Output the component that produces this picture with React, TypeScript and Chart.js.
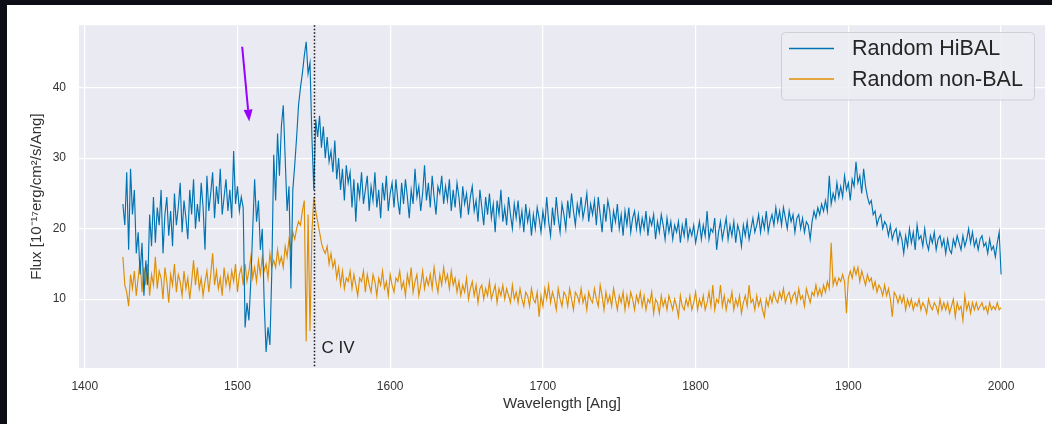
import React, { useEffect, useRef } from 'react';
import { Chart, registerables } from 'chart.js';

Chart.register(...registerables);

const WAVELENGTH_START = 1425;
const WAVELENGTH_STEP = 1.25;

const HIBAL_FLUX = [
  23.5, 20.5, 28.0, 17.0, 28.5, 22.0, 25.5, 16.5,
  19.5, 13.5, 18.0, 10.5, 15.5, 12.0, 22.0, 17.5,
  24.5, 18.0, 23.0, 20.5, 25.5, 16.5, 22.0, 24.5,
  19.0, 22.5, 17.5, 25.0, 20.5, 23.0, 26.5, 19.5,
  24.0, 21.5, 18.5, 25.5, 22.0, 27.0, 20.0, 23.5,
  21.0, 26.5, 23.0, 17.0, 27.5, 22.5, 25.0, 28.0,
  21.5, 26.0, 23.5, 28.5, 22.0, 24.5, 27.0, 22.5,
  25.5, 21.5, 31.0, 23.5, 26.0, 22.5, 24.5, 23.0,
  6.0, 9.5, 7.0, 12.5, 20.0, 27.0, 21.0, 24.0,
  17.0, 20.0, 9.5, 2.5, 6.0, 3.5, 14.0, 30.5,
  24.0, 33.5, 27.5, 34.5, 37.5, 30.0, 22.5, 26.0,
  11.5, 25.5, 29.0, 33.0, 37.5, 40.0, 42.0, 44.5,
  46.5, 42.0, 43.5, 33.0, 25.5, 35.5, 33.0, 36.0,
  31.5, 34.5, 30.0, 33.0, 29.5, 31.0, 28.0, 32.5,
  27.0, 30.0, 25.5, 28.5, 24.0, 29.0, 26.5, 28.0,
  23.0, 27.0, 21.0, 26.5, 24.5, 28.0, 23.5, 25.5,
  27.5, 22.5, 26.0, 24.0, 28.0, 23.0, 25.5, 21.5,
  26.5, 24.0, 27.5, 22.5, 25.0, 26.5, 23.0, 27.0,
  24.0, 22.0, 26.5, 23.5, 27.0, 24.5, 21.5, 25.5,
  23.5, 28.5, 24.5, 26.0, 22.5, 25.0, 29.0, 24.0,
  26.5, 23.0, 27.5, 24.5, 22.0, 26.0, 25.0, 27.5,
  23.5, 26.0, 24.0, 27.0, 22.5, 25.5, 23.0, 26.5,
  24.5, 21.5, 26.0, 23.5, 25.0, 22.0, 24.5, 26.0,
  22.5, 24.0, 21.0, 25.5, 23.0, 20.5, 24.5, 22.0,
  25.0, 21.5, 23.5, 19.5, 24.0, 22.0, 25.5, 21.0,
  23.0, 20.5, 24.5, 22.0, 20.0, 23.5, 21.5, 24.0,
  20.5, 22.5, 19.5, 23.5, 21.0, 22.5, 19.0, 22.0,
  20.0, 23.0, 21.5, 19.5, 22.5, 20.5, 24.5, 21.0,
  19.0, 23.0, 20.5, 24.5, 21.5, 19.5, 23.5, 22.0,
  20.0, 24.0, 21.5, 25.0, 22.5, 20.5, 23.5, 22.0,
  24.5, 21.5, 23.0, 25.0, 21.0, 23.5, 22.0, 24.0,
  20.5, 24.5, 22.0, 19.5, 23.5, 21.0, 24.0, 22.5,
  19.5, 22.5, 21.0, 23.5, 20.0, 22.0, 19.0, 22.5,
  20.5, 23.0, 19.5, 21.5, 22.5, 20.0, 22.0, 19.5,
  21.5, 20.0, 22.5, 19.0, 21.5, 20.5, 22.0, 18.5,
  21.0, 19.5, 22.0, 20.5, 18.5, 21.5, 19.5, 21.0,
  18.5, 20.5, 19.5, 21.0, 18.0, 20.5, 19.0, 21.5,
  18.5, 20.0, 19.0, 20.5, 18.0, 19.5, 21.0, 18.5,
  20.5, 19.0, 22.5, 18.5, 20.0, 19.5, 21.5, 17.0,
  19.5, 21.0, 18.5, 20.0, 21.5, 18.5, 20.5, 19.0,
  21.0, 18.0, 20.5, 19.5, 17.5, 20.5, 19.0, 21.0,
  18.5, 20.0, 21.5, 19.5, 20.5, 22.0, 19.5, 21.5,
  20.0, 22.5, 19.5, 21.0, 22.0, 20.5, 23.0, 21.0,
  22.5, 20.5, 23.0, 21.5, 20.0, 22.5, 21.0, 22.0,
  19.5, 21.5, 22.0, 20.0, 21.5, 19.5, 21.0, 20.5,
  18.5, 21.0, 22.5, 21.5, 23.0, 22.0, 23.5, 22.5,
  24.0, 22.5, 27.5, 23.5, 25.0, 24.0, 26.5, 24.5,
  26.0, 24.5, 27.5, 25.5, 26.5, 24.0, 27.0, 26.0,
  29.5, 26.5, 27.5, 25.0, 28.5, 26.0, 24.5, 23.5,
  24.0, 22.0, 22.5, 20.5, 21.5, 22.0, 20.0, 21.0,
  20.5, 19.0, 20.5, 18.5, 19.5, 20.0, 18.0, 19.5,
  18.5, 16.5, 19.0, 17.5, 20.0, 18.0, 19.5, 17.0,
  20.5, 18.5, 19.0, 17.5, 20.0, 18.0, 17.0, 19.0,
  18.0, 19.5, 17.0, 18.5, 19.0, 17.5, 18.5, 16.5,
  18.5, 17.0, 16.5, 18.5, 17.5, 19.0, 18.0, 17.0,
  19.0, 17.5, 18.5, 20.0, 18.0, 19.5, 17.5, 18.5,
  17.0, 18.5, 19.0, 17.5, 18.0, 16.5, 18.5, 17.0,
  17.5, 16.0, 18.0, 19.5, 13.5,
];

const NONBAL_FLUX = [
  16.0, 12.0, 11.0, 9.0, 13.5, 11.5, 14.0, 10.5,
  13.0, 15.5, 11.0, 14.5, 12.0, 15.0, 10.5, 13.5,
  12.0, 16.0, 11.5, 14.0, 13.0, 10.0, 14.5, 12.5,
  9.5, 13.5, 12.0, 15.0, 11.0, 13.5, 12.5, 10.5,
  14.0, 11.5, 13.0, 10.0, 12.5, 15.5, 12.0, 14.5,
  11.5, 13.0, 10.5, 12.5, 14.0, 11.0, 13.5, 16.5,
  12.0, 14.0, 11.5, 13.0, 10.5, 14.5, 12.0, 13.5,
  11.5, 14.0, 12.5, 15.0, 11.0, 13.5, 14.5, 12.0,
  15.0, 12.5, 14.0, 16.0, 13.0, 14.5, 12.5, 15.5,
  13.5, 16.0, 14.0, 15.0, 13.0, 16.5, 14.5, 15.5,
  14.5, 17.0, 15.0, 16.0, 14.5, 17.5, 16.0, 18.5,
  17.0, 19.5, 18.5, 20.0, 21.0, 20.5, 22.5, 24.0,
  4.0, 22.0, 5.5, 19.5, 24.5, 22.5, 21.0, 19.5,
  18.0, 17.0, 16.5, 17.5, 15.0, 16.5, 14.5, 15.5,
  13.0, 14.5, 12.0, 14.0, 11.5, 13.0, 12.5, 14.0,
  11.5, 13.5, 12.0, 10.5, 13.0, 12.5, 14.0, 11.0,
  13.5, 12.0, 11.0, 13.5, 12.5, 10.5, 13.0, 12.0,
  14.0, 11.5, 12.5, 10.5, 13.5, 12.0, 11.0, 13.0,
  12.5, 14.0, 11.5, 12.5, 10.5, 13.5, 12.0, 14.5,
  11.0, 12.5, 13.5, 10.5, 12.0, 14.0, 11.5, 13.0,
  12.0, 13.5, 11.5, 14.5, 12.5, 11.0, 13.5, 12.0,
  14.5, 12.5, 13.5, 11.5, 14.0, 12.0, 13.0, 11.0,
  12.5, 10.5, 12.0, 11.0, 13.0, 10.0, 11.5, 12.5,
  10.5, 12.0, 9.5, 11.5, 12.0, 10.0, 11.5, 10.5,
  12.5, 10.0, 11.0, 12.0, 9.5, 11.5, 10.5, 12.0,
  10.0, 11.5, 10.5, 9.5, 12.0, 10.0, 11.0, 9.5,
  11.5, 10.0, 9.0, 11.0, 10.5, 9.0, 11.5, 10.0,
  9.5, 11.0, 7.5, 10.5, 9.0, 11.5, 10.0, 12.0,
  9.5, 11.0, 10.0, 8.5, 11.5, 10.0, 9.0, 11.0,
  10.5, 9.0, 11.5, 10.0, 8.5, 11.0, 10.5, 9.5,
  11.5, 9.5, 10.5, 8.5, 11.0, 10.0, 9.5, 11.5,
  10.0, 9.0, 12.0, 10.5, 8.5, 11.0, 9.5, 10.5,
  9.0, 11.5, 10.0, 8.5, 10.5, 9.5, 11.0, 8.5,
  10.5, 9.0, 11.0, 10.0, 8.5, 10.5, 9.5, 11.0,
  9.0, 10.5, 8.5, 10.0, 9.5, 11.0, 8.0, 10.0,
  9.5, 8.0, 10.5, 9.0, 10.0, 8.5, 10.5, 9.5,
  8.5, 10.0, 9.0, 7.5, 10.5, 9.0, 8.5, 10.0,
  9.0, 10.5, 8.5, 9.5, 11.0, 8.5, 10.0, 9.0,
  10.5, 8.5, 9.5, 11.0, 9.0, 12.0, 8.5, 10.0,
  9.5, 12.0, 9.0, 10.5, 8.5, 10.0, 9.5, 11.0,
  8.5, 10.0, 9.0, 10.5, 8.0, 9.5, 10.5, 9.0,
  12.0, 9.5, 10.0, 8.5, 10.5, 9.0, 10.0, 8.5,
  7.5, 10.0, 9.0, 10.5, 9.5, 11.0, 10.0, 9.5,
  11.0, 10.0, 11.5, 9.5, 10.5, 11.0, 9.5, 10.5,
  11.0, 9.5, 11.5, 10.0, 10.5, 9.0, 11.5, 10.5,
  9.5, 11.0, 10.5, 12.0, 10.5, 11.5, 10.5, 12.0,
  11.0, 12.5, 11.5, 18.0, 12.0, 13.0, 12.0, 13.0,
  12.5, 13.5, 12.5, 8.0, 13.0, 14.0, 13.0, 14.5,
  13.5, 14.5, 12.5, 14.0, 13.0, 12.0, 13.5, 12.5,
  13.0, 11.5, 12.5, 11.0, 12.0, 11.5, 10.5, 12.0,
  10.5, 11.5, 10.0, 7.5, 11.0, 10.5, 9.5, 10.5,
  9.5, 10.5, 8.5, 10.0, 9.0, 10.0, 8.5, 9.5,
  9.0, 10.0, 8.5, 9.5, 9.0, 8.0, 10.0, 9.0,
  8.5, 9.5, 9.0, 8.0, 10.0, 8.5, 9.5, 8.5,
  9.5, 8.0, 9.0, 10.0, 7.5, 9.5, 8.5, 9.0,
  7.0, 10.5, 8.5, 9.5, 8.0, 9.5, 8.5, 9.5,
  8.5, 9.0, 9.5, 8.5, 9.0, 8.0, 9.5, 8.5,
  9.0, 8.5, 9.5, 8.5, 8.8,
];

const SERIES_LABELS = ['Random HiBAL', 'Random non-BAL'];
const SERIES_COLORS = ['#0173b2', '#de8f05'];

const X_TICKS = [1400, 1500, 1600, 1700, 1800, 1900, 2000];
const Y_TICKS = [10, 20, 30, 40];
const X_RANGE = [1396.25, 2028.75];
const Y_RANGE = [0.24, 48.86];

const X_TITLE = 'Wavelength [Ang]';
const Y_TITLE = 'Flux [10\u207B\u00B9\u2077erg/cm\u00B2/s/Ang]';

const MARKER_WAVELENGTH = 1550;
const MARKER_LABEL = 'C IV';
const MARKER_LABEL_POS = { x: 1555, y: 3.0 };

const ARROW_FROM = { x: 1503.1, y: 45.8 };
const ARROW_TO = { x: 1507.7, y: 35.2 };
const ARROW_COLOR = '#9a00ff';

const FONT = '"Liberation Sans", Arial, Helvetica, sans-serif';
const TEXT_COLOR = '#333333';
const PLOT_BG = '#eaeaf2';

const wavelengths = HIBAL_FLUX.map((_, i) => WAVELENGTH_START + i * WAVELENGTH_STEP);

const decorPlugin = {
  id: 'decor',
  beforeDraw(chart: any) {
    const { ctx, chartArea } = chart;
    ctx.save();
    ctx.fillStyle = PLOT_BG;
    ctx.fillRect(chartArea.left, chartArea.top, chartArea.right - chartArea.left, chartArea.bottom - chartArea.top);
    ctx.restore();
  },
  afterDatasetsDraw(chart: any) {
    const { ctx, chartArea, scales } = chart;
    const xs = scales.x;
    const ys = scales.y;
    ctx.save();
    // dotted marker line
    const mx = Math.round(xs.getPixelForValue(MARKER_WAVELENGTH)) + 0.5;
    ctx.strokeStyle = '#111111';
    ctx.lineWidth = 1.5;
    ctx.setLineDash([1.5, 2]);
    ctx.beginPath();
    ctx.moveTo(mx, chartArea.top);
    ctx.lineTo(mx, chartArea.bottom);
    ctx.stroke();
    ctx.setLineDash([]);

    // marker label
    ctx.fillStyle = '#222222';
    ctx.font = `17px ${FONT}`;
    ctx.textAlign = 'left';
    ctx.textBaseline = 'middle';
    ctx.fillText(MARKER_LABEL, xs.getPixelForValue(MARKER_LABEL_POS.x), ys.getPixelForValue(MARKER_LABEL_POS.y));

    // arrow
    const x1 = xs.getPixelForValue(ARROW_FROM.x);
    const y1 = ys.getPixelForValue(ARROW_FROM.y);
    const x2 = xs.getPixelForValue(ARROW_TO.x);
    const y2 = ys.getPixelForValue(ARROW_TO.y);
    const ang = Math.atan2(y2 - y1, x2 - x1);
    const headLen = 12;
    const headHalf = 4.5;
    const bx = x2 - headLen * Math.cos(ang);
    const by = y2 - headLen * Math.sin(ang);
    ctx.strokeStyle = ARROW_COLOR;
    ctx.fillStyle = ARROW_COLOR;
    ctx.lineWidth = 2;
    ctx.beginPath();
    ctx.moveTo(x1, y1);
    ctx.lineTo(bx, by);
    ctx.stroke();
    ctx.beginPath();
    ctx.moveTo(x2, y2);
    ctx.lineTo(bx + headHalf * Math.sin(ang), by - headHalf * Math.cos(ang));
    ctx.lineTo(bx - headHalf * Math.sin(ang), by + headHalf * Math.cos(ang));
    ctx.closePath();
    ctx.fill();
    ctx.restore();
  },
  afterDraw(chart: any) {
    const { ctx } = chart;
    ctx.save();
    // legend box
    const bx = 774.5, by = 27.5, bw = 253, bh = 67.5;
    ctx.beginPath();
    (ctx as any).roundRect(bx, by, bw, bh, 4);
    ctx.fillStyle = 'rgba(236,236,243,0.85)';
    ctx.fill();
    ctx.strokeStyle = '#cfcfd6';
    ctx.lineWidth = 1;
    ctx.stroke();
    const rows = [43.5, 74];
    rows.forEach((ry, i) => {
      ctx.strokeStyle = SERIES_COLORS[i];
      ctx.lineWidth = 1.3;
      ctx.beginPath();
      ctx.moveTo(782, ry);
      ctx.lineTo(827, ry);
      ctx.stroke();
      ctx.fillStyle = '#262626';
      ctx.font = `21.5px ${FONT}`;
      ctx.textAlign = 'left';
      ctx.textBaseline = 'middle';
      ctx.fillText(SERIES_LABELS[i], 845, ry + 1);
    });
    ctx.restore();
  },
};

export default function App() {
  const canvasRef = useRef<HTMLCanvasElement | null>(null);

  useEffect(() => {
    document.body.style.margin = '0';
    const canvas = canvasRef.current;
    if (!canvas) return;
    const chart = new Chart(canvas, {
      type: 'line',
      data: {
        datasets: [
          {
            label: SERIES_LABELS[0],
            data: wavelengths.map((w, i) => ({ x: w, y: HIBAL_FLUX[i] })),
            borderColor: SERIES_COLORS[0],
            borderWidth: 1.15,
            pointRadius: 0,
            tension: 0,
            fill: false,
          },
          {
            label: SERIES_LABELS[1],
            data: wavelengths.map((w, i) => ({ x: w, y: NONBAL_FLUX[i] })),
            borderColor: SERIES_COLORS[1],
            borderWidth: 1.15,
            pointRadius: 0,
            tension: 0,
            fill: false,
          },
        ],
      },
      options: {
        responsive: false,
        animation: false,
        devicePixelRatio: 1,
        layout: { padding: { left: 0, right: 7, top: 17, bottom: 0 } },
        plugins: {
          legend: { display: false },
          tooltip: { enabled: false },
        },
        scales: {
          x: {
            type: 'linear',
            min: X_RANGE[0],
            max: X_RANGE[1],
            afterBuildTicks: (scale: any) => {
              scale.ticks = X_TICKS.map((v) => ({ value: v }));
            },
            afterFit: (scale: any) => {
              scale.height = 56;
            },
            grid: { color: '#ffffff', lineWidth: 1.2, drawTicks: false },
            border: { display: false },
            ticks: {
              color: TEXT_COLOR,
              font: { family: FONT, size: 12 },
              padding: 11,
              maxRotation: 0,
              callback: (v: any) => String(v),
            },
            title: {
              display: true,
              text: X_TITLE,
              color: TEXT_COLOR,
              font: { family: FONT, size: 15 },
              padding: { top: 0, bottom: 11 },
            },
          },
          y: {
            type: 'linear',
            min: Y_RANGE[0],
            max: Y_RANGE[1],
            afterBuildTicks: (scale: any) => {
              scale.ticks = Y_TICKS.map((v) => ({ value: v }));
            },
            afterFit: (scale: any) => {
              scale.width = 72;
            },
            grid: { color: '#ffffff', lineWidth: 1.2, drawTicks: false },
            border: { display: false },
            ticks: {
              color: TEXT_COLOR,
              font: { family: FONT, size: 12 },
              padding: 13,
              callback: (v: any) => String(v),
            },
            title: {
              display: true,
              text: Y_TITLE,
              color: TEXT_COLOR,
              font: { family: FONT, size: 15 },
              padding: { top: 21, bottom: 0 },
            },
          },
        },
      },
      plugins: [decorPlugin],
    } as any);
    return () => chart.destroy();
  }, []);

  return (
    <div
      style={{
        position: 'absolute',
        left: 0,
        top: 0,
        width: 1052,
        height: 424,
        background: '#0d0d15',
        overflow: 'hidden',
      }}
    >
      <canvas
        ref={canvasRef}
        width={1045}
        height={419}
        style={{ position: 'absolute', left: 7, top: 5, width: 1045, height: 419, background: '#ffffff' }}
      />
    </div>
  );
}
